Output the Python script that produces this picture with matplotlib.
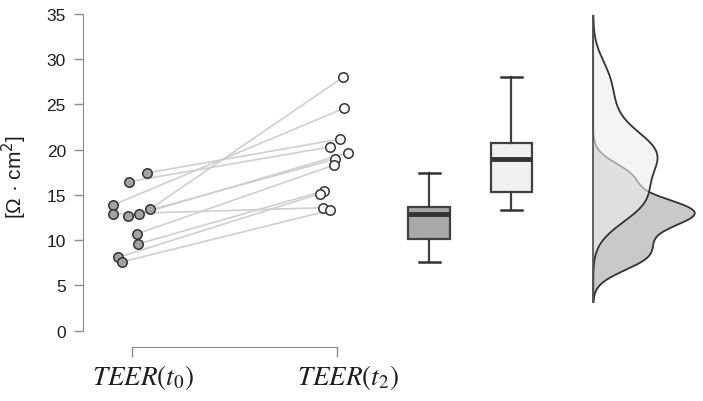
import numpy as np
import matplotlib
matplotlib.use("Agg")
import matplotlib.pyplot as plt

# TEER values, paired per sample (t0 -> t2)
teer_t0 = [17.43, 16.46, 13.89, 12.90, 12.67, 12.86, 13.45, 10.69, 9.58, 8.11, 7.59]
teer_t2 = [21.18, 20.30, 24.57, 13.59, 18.97, 19.64, 28.00, 18.31, 15.44, 15.14, 13.30]
# horizontal jitter of the dots (as seen in the picture)
jitter_t0 = [0.072, -0.019, -0.095, -0.095, -0.022, 0.033, 0.087, 0.021, 0.026, -0.069, -0.053]
jitter_t2 = [0.013, -0.037, 0.033, -0.068, -0.010, 0.051, 0.028, -0.015, -0.066, -0.084, -0.037]
group_labels = [r'$TEER(t_0)$', r'$TEER(t_2)$']
y_ticks = [0, 5, 10, 15, 20, 25, 30, 35]

spine_col = '#8c8c8c'
dark = '#333333'
text_col = '#1e1e1e'


def kde(values, grid):
    # gaussian kde with R's bw.nrd0 bandwidth
    v = np.asarray(values)
    q75, q25 = np.percentile(v, [75, 25])
    bw = 0.9 * min(v.std(ddof=1), (q75 - q25) / 1.34) * len(v) ** -0.2
    z = (grid[:, None] - v[None, :]) / bw
    return np.exp(-0.5 * z ** 2).sum(axis=1) / (len(v) * bw * np.sqrt(2 * np.pi)), bw


fig = plt.figure(figsize=(7.03, 4.02), dpi=100)
ax = fig.add_axes([0.1185, 0.1749, 0.8815, 0.7878])

# paired lines
for a, b, ja, jb in zip(teer_t0, teer_t2, jitter_t0, jitter_t2):
    ax.plot([1 + ja, 2 + jb], [a, b], color='#cfcfcf', lw=1.2, zorder=1)

x0 = [1 + j for j in jitter_t0]
x2 = [2 + j for j in jitter_t2]
ax.plot(x0, teer_t0, 'o', ms=6.8, mfc='#a3a3a3', mec=dark, mew=1.1, zorder=3)
ax.plot(x2, teer_t2, 'o', ms=6.8, mfc='white', mec=dark, mew=1.1, zorder=3)

# box plots
bp = ax.boxplot([teer_t0, teer_t2], positions=[2.449, 2.850], widths=0.203,
                patch_artist=True, whis=(0, 100), showfliers=False,
                boxprops=dict(edgecolor='#404040', linewidth=1.6),
                whiskerprops=dict(color='#404040', linewidth=1.6),
                capprops=dict(color=dark, linewidth=1.8),
                medianprops=dict(color=dark, linewidth=3.5),
                capwidths=0.101)
for patch, fc in zip(bp['boxes'], ['#a8a8a8', '#f0f0f0']):
    patch.set_facecolor(fc)

# half densities on a common grid
_, bw0 = kde(teer_t0, np.array([0.0]))
_, bw2 = kde(teer_t2, np.array([0.0]))
grid = np.linspace(min(min(teer_t0) - 3 * bw0, min(teer_t2) - 3 * bw2),
                   max(max(teer_t0) + 3 * bw0, max(teer_t2) + 3 * bw2), 400)
d0, _ = kde(teer_t0, grid)
d2, _ = kde(teer_t2, grid)
base = 3.25
scale = 3.87
ax.fill_betweenx(grid, base, base + d0 * scale, color='#c9c9c9', lw=0, zorder=2)
ax.plot(base + d0 * scale, grid, color=dark, lw=1.3, zorder=2)
ax.fill_betweenx(grid, base, base + d2 * scale, color='#eeeeee', alpha=0.62, lw=0, zorder=2)
ax.plot(base + d2 * scale, grid, color=dark, lw=1.3, zorder=2)
ax.plot([base, base], [grid[0], grid[-1]], color='#555555', lw=1.3, zorder=2)

# axes styling
ax.set_xlim(0.760, 3.786)
ax.set_ylim(0, 35)
for s in ['top', 'right']:
    ax.spines[s].set_visible(False)
ax.spines['left'].set_color(spine_col)
ax.spines['bottom'].set_color(spine_col)
ax.spines['left'].set_bounds(0, 35)
ax.spines['bottom'].set_bounds(1, 2)
ax.spines['bottom'].set_position(('outward', 12))
ax.set_yticks(y_ticks)
# major ticks carry the marks, minor ticks (a bit to the right) carry the labels
ax.set_xticks([1, 2], ['', ''])
ax.set_xticks([1.05, 2.05], group_labels, minor=True, fontsize=19.5,
              math_fontfamily='stix')
ax.tick_params(axis='y', colors=spine_col, length=6.5, width=1, pad=6,
               labelcolor=text_col, labelsize=12.5)
ax.tick_params(axis='x', which='major', colors=spine_col, length=7.5, width=1)
ax.tick_params(axis='x', which='minor', length=0, pad=10.5, labelcolor=text_col)
for lab in ax.get_yticklabels():
    lab.set_fontfamily('Liberation Sans')
ax.set_ylabel(r'[Ω · cm$^2$]', fontsize=15, fontfamily='Liberation Sans',
              math_fontfamily='dejavusans', color=text_col)
ax.yaxis.set_label_coords(-0.088, 0.49)

fig.savefig('out.png', dpi=100)
